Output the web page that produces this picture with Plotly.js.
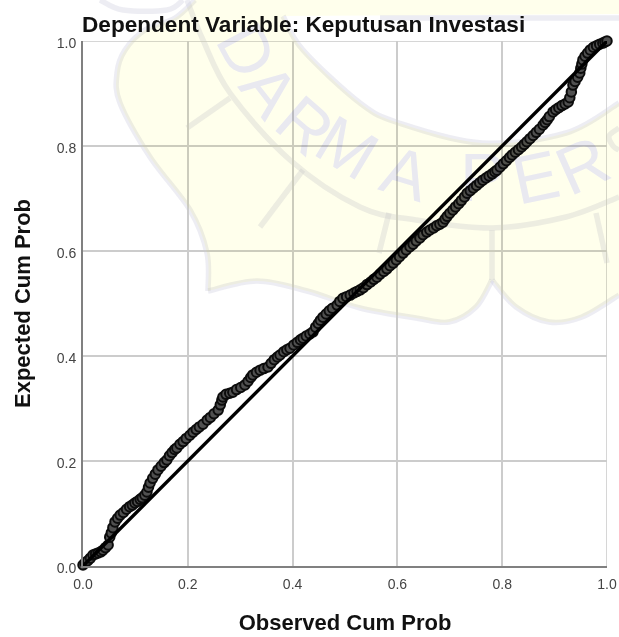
<!DOCTYPE html>
<html>
<head>
<meta charset="utf-8">
<script src="https://cdn.plot.ly/plotly-3.0.1.min.js"></script>
<style>html,body{margin:0;padding:0;background:#fff}#c{width:619px;height:637px;filter:blur(0.4px)}
.svg-container .main-svg:nth-child(n+2){mix-blend-mode:multiply}</style>
</head>
<body>
<div id="c"></div>
<script>
const observed = [0,.004,.009,.014,.019,.024,.029,.034,.038,.043,.048,.051,.054,.057,.061,.066,.071,.077,.083,.089,.094,.099,.104,.109,.113,.118,.122,.125,.128,.133,.138,.143,.149,.155,.16,.165,.17,.175,.179,.185,.191,.197,.204,.21,.216,.222,.229,.237,.243,.25,.258,.262,.265,.267,.273,.28,.286,.293,.301,.309,.315,.32,.324,.331,.338,.345,.353,.359,.365,.371,.376,.383,.389,.395,.402,.409,.415,.42,.426,.433,.439,.444,.449,.453,.458,.464,.47,.476,.485,.49,.496,.503,.51,.517,.523,.529,.535,.542,.549,.555,.561,.567,.574,.58,.586,.592,.598,.604,.611,.617,.624,.63,.636,.643,.649,.656,.662,.669,.675,.681,.687,.691,.695,.7,.706,.711,.717,.722,.728,.733,.739,.745,.751,.757,.763,.769,.775,.781,.786,.79,.796,.802,.808,.814,.819,.825,.831,.837,.842,.847,.853,.859,.865,.871,.878,.882,.886,.89,.897,.902,.908,.914,.92,.926,.929,.932,.935,.939,.944,.948,.95,.952,.954,.958,.963,.968,.974,.98,.986,.992,.996,1];
const expected = [.002,.006,.01,.015,.021,.023,.025,.027,.03,.035,.04,.055,.063,.073,.084,.091,.097,.102,.108,.113,.116,.12,.123,.127,.13,.135,.141,.15,.158,.167,.175,.183,.19,.197,.202,.21,.216,.222,.225,.232,.237,.243,.249,.255,.26,.265,.27,.278,.283,.29,.297,.307,.316,.322,.327,.329,.331,.336,.34,.345,.352,.359,.364,.369,.373,.376,.379,.386,.393,.398,.402,.408,.412,.415,.421,.426,.431,.434,.438,.442,.446,.455,.462,.468,.474,.48,.486,.491,.497,.504,.51,.513,.516,.52,.523,.526,.53,.536,.541,.546,.55,.556,.561,.566,.572,.577,.583,.589,.596,.602,.608,.613,.619,.625,.631,.636,.64,.644,.648,.651,.655,.661,.666,.672,.678,.684,.69,.696,.703,.71,.715,.72,.725,.73,.735,.739,.743,.747,.751,.754,.76,.766,.772,.778,.783,.788,.793,.798,.803,.808,.814,.82,.826,.832,.84,.845,.85,.856,.865,.869,.873,.877,.88,.884,.892,.903,.916,.923,.931,.939,.948,.956,.964,.971,.977,.983,.988,.991,.994,.996,.998,1];
const refLine = [0,1];
const tickValues = [0,.2,.4,.6,.8,1];
const tickLabels = ["0.0","0.2","0.4","0.6","0.8","1.0"];
const chartTitle = "Dependent Variable: Keputusan Investasi";
const xTitle = "Observed Cum Prob";
const yTitle = "Expected Cum Prob";
const watermarkLetters = ["D","A","R","M","A","P","E","R"];

// watermark geometry, in page pixels
const W = 619, H = 637, L = 83, R = 607, T = 41, B = 566;
const px = x => (x - L) / (R - L), py = y => (B - y) / (B - T);
function smooth(p, start) {
  let s = start ? 'M' + px(p[0][0]) + ',' + py(p[0][1]) : 'L' + px(p[0][0]) + ',' + py(p[0][1]);
  for (let i = 0; i < p.length - 1; i++) {
    const a = p[Math.max(i-1,0)], b = p[i], c = p[i+1], d = p[Math.min(i+2,p.length-1)];
    s += 'C' + px(b[0]+(c[0]-a[0])/6) + ',' + py(b[1]+(c[1]-a[1])/6) + ' ' +
         px(c[0]-(d[0]-b[0])/6) + ',' + py(c[1]-(d[1]-b[1])/6) + ' ' + px(c[0]) + ',' + py(c[1]);
  }
  return s;
}
const shieldLeft = [[195,0],[175,18],[145,30],[125,50],[117,73],[120,103],[150,157],[190,210],[207,253],[208,291]];
const shieldBottom = [[208,291],[257,281],[307,291],[360,308],[416,318],[449,322],[476,307],[492,280]];
const shieldRight = [[492,280],[516,307],[549,322],[582,317],[619,295]];
const innerRing = [[619,103],[566,133],[482,143],[399,123],[360,103],[303,50],[283,16]];
const outerRing = [[187,0],[203,40],[230,93],[290,160],[360,207],[416,220],[492,228],[566,217],[619,197]];
const topArc = [[100,0],[123,10],[167,10],[183,0]];
const letterSliver = [[619,128],[609,136],[613,146],[619,150]];
const bars = [[[187,128],[230,98]],[[260,227],[303,170]],[[389,213],[379,253]],[[492,230],[492,280]],[[596,213],[607,263]],[[380,18],[619,18]]];
const band = 'rgba(205,205,222,0.36)';
const bandShape = path => ({type:'path',xref:'paper',yref:'paper',path,layer:'below',line:{color:band,width:5.5},fillcolor:'rgba(0,0,0,0)'});
const shapes = [shieldLeft,shieldBottom,shieldRight,innerRing,outerRing,topArc,letterSliver].map(p => bandShape(smooth(p,true)));
bars.forEach(p => shapes.push(bandShape('M'+px(p[0][0])+','+py(p[0][1])+'L'+px(p[1][0])+','+py(p[1][1]))));
shapes.push({type:'path',xref:'paper',yref:'paper',layer:'above',line:{width:0},fillcolor:'rgba(255,255,0,0.075)',
  path: smooth(shieldLeft,true)+smooth(shieldBottom,false)+smooth(shieldRight,false)+smooth(innerRing,false)+
        'L'+px(619)+','+py(14)+'L'+px(619)+','+py(0)+'Z'});
shapes.push({type:'line',xref:'x',yref:'y',x0:0,x1:1,y0:1,y1:1,layer:'below',line:{color:'#c9c9c9',width:1.5}});
shapes.push({type:'line',xref:'x',yref:'y',x0:1,x1:1,y0:0,y1:1,layer:'below',line:{color:'#c9c9c9',width:1.5}});

const letterSpots = [[247,50,62],[270,90,52],[305,125,41],[347,147,31],[406,173,17],[482,177,0],[535,177,-12],[582,165,-24]];
const annotations = watermarkLetters.map((t,i) => ({text:t,xref:'paper',yref:'paper',x:px(letterSpots[i][0]),y:py(letterSpots[i][1]),
  textangle:letterSpots[i][2],showarrow:false,xanchor:'center',yanchor:'middle',captureevents:false,
  font:{family:'Liberation Sans',size:68,color:'#e9e9f0'}}));
annotations.push({text:'<b>'+chartTitle+'</b>',xref:'paper',yref:'paper',x:0,xshift:-3,y:py(25),xanchor:'left',yanchor:'middle',showarrow:false,
  font:{family:'Liberation Sans',size:22.6,color:'#111'}});

const traces = [
  {x:observed,y:expected,type:'scatter',mode:'markers',cliponaxis:false,
   marker:{size:9.5,color:'#505050',line:{color:'#0c0c0c',width:2}},hoverinfo:'skip'},
  {x:refLine,y:refLine,type:'scatter',mode:'lines',cliponaxis:false,line:{color:'#000',width:3.4},hoverinfo:'skip'}
];
const axis = (titleText, standoff, labelGap, labelShift) => ({
  range:[0,1],fixedrange:true,tickmode:'array',tickvals:tickValues,ticktext:tickLabels,ticks:'',ticklabelstandoff:labelGap,ticklabelshift:labelShift,
  tickfont:{family:'Liberation Sans',size:14,color:'#444'},
  showgrid:true,gridcolor:'#cccccc',gridwidth:2,zeroline:false,showline:true,linecolor:'#808080',linewidth:2,
  title:{text:'<b>'+titleText+'</b>',standoff,font:{family:'Liberation Sans',size:22,color:'#111'}}
});
const layout = {
  width:W,height:H,margin:{l:L,r:W-R,t:T,b:H-B},showlegend:false,
  paper_bgcolor:'#fff',plot_bgcolor:'rgba(0,0,0,0)',
  xaxis:axis(xTitle,24,4,0),yaxis:axis(yTitle,20,2,2),shapes,annotations
};
Plotly.newPlot('c',traces,layout,{displayModeBar:false,staticPlot:true});
</script>
</body>
</html>
